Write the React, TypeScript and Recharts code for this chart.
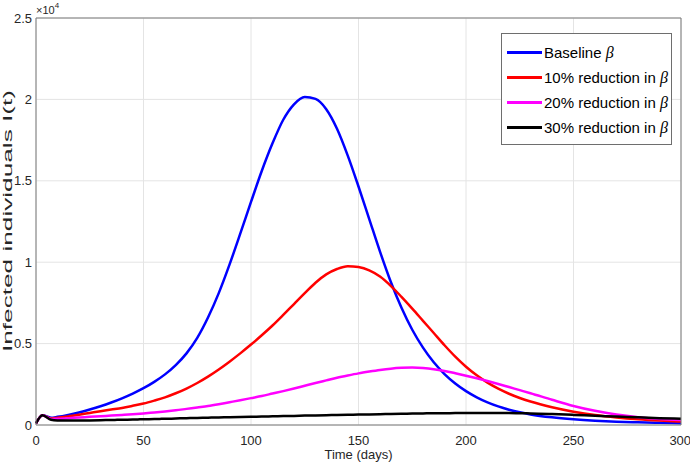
import { LineChart, Line, XAxis, YAxis, CartesianGrid, Legend } from 'recharts';

// days since start of outbreak
const days = [
  0, 3, 7,
  10, 15, 20, 25, 30, 35, 40, 45, 50, 55, 60, 65, 70, 75, 80, 85, 90, 95, 100, 105,
  110, 115, 120, 125, 130, 135, 140, 145, 150, 155, 160, 165, 170, 175, 180, 185, 190, 195,
  200, 205, 210, 215, 220, 225, 230,
  240, 250, 260, 270, 280, 290, 300,
];

// infected individuals I(t)
const baseline = [
  100, 600, 450,
  500, 620, 770, 950, 1150, 1380, 1640, 1930, 2260, 2650, 3110, 3680, 4400, 5350, 6600, 8100, 9850, 11750, 13700, 15600,
  17300, 18750, 19700, 20150, 20030, 19400, 18200, 16550, 14650, 12650, 10650, 8800, 7200, 5850, 4750, 3850, 3130, 2550,
  2080, 1700, 1390, 1140, 940, 780, 650,
  470, 350, 265, 205, 165, 135, 115,
];
const reduction10 = [
  100, 600, 400,
  450, 530, 630, 740, 850, 950, 1050, 1180, 1320, 1500, 1700, 1950, 2240, 2580, 2970, 3410, 3890, 4400, 4940, 5510,
  6110, 6760, 7430, 8100, 8740, 9250, 9580, 9750, 9700, 9500, 9120, 8550, 7870, 7150, 6400, 5650, 4900, 4200,
  3580, 3050, 2600, 2230, 1920, 1660, 1440,
  1090, 820, 610, 460, 350, 270, 210,
];
const reduction20 = [
  100, 600, 370,
  380, 420, 460, 500, 540, 580, 620, 660, 710, 770, 830, 900, 990, 1080, 1170, 1280, 1400, 1520, 1650, 1780,
  1930, 2080, 2240, 2410, 2580, 2740, 2900, 3040, 3170, 3280, 3380, 3460, 3510, 3530, 3500, 3430, 3320, 3180,
  3030, 2870, 2700, 2520, 2330, 2140, 1950,
  1550, 1170, 870, 640, 480, 370, 300,
];
const reduction30 = [
  100, 600, 320,
  280, 270, 270, 280, 290, 310, 320, 340, 350, 370, 380, 400, 420, 430, 450, 460, 480, 490, 500, 520,
  530, 550, 560, 580, 590, 600, 620, 630, 640, 650, 660, 680, 690, 700, 710, 720, 720, 730,
  730, 740, 740, 730, 730, 720, 710,
  670, 620, 570, 520, 470, 420, 380,
];

const seriesOrder = ['Baseline β', '10% reduction in β', '20% reduction in β', '30% reduction in β'];
const xTicks = [0, 50, 100, 150, 200, 250, 300];
const yTicks = [0, 5000, 10000, 15000, 20000, 25000];

const data = days.map((d, i) => ({
  day: d,
  baseline: baseline[i],
  r10: reduction10[i],
  r20: reduction20[i],
  r30: reduction30[i],
}));

const FONT = '"Liberation Sans", Arial, Helvetica, sans-serif';
const AXIS = '#7a7a7a';
const TEXT = '#262626';

const AxisTitles = () => (
  <g>
    <text
      transform="translate(12,221) rotate(-90)"
      textAnchor="middle"
      fontFamily={FONT}
      fontSize={12}
      fill={TEXT}
      textLength={262}
      lengthAdjust="spacingAndGlyphs"
    >
      Infected individuals I(t)
    </text>
    <text x={36} y={14} fontFamily={FONT} fontSize={11} fill={TEXT}>
      ×10
      <tspan dy={-6} fontSize={8}>4</tspan>
    </text>
  </g>
);

const renderLegend = (props: any) => {
  const payload = [...(props.payload || [])].sort(
    (a: any, b: any) => seriesOrder.indexOf(a.value) - seriesOrder.indexOf(b.value),
  );
  return (
    <div
      style={{
        border: '1px solid #6e6e6e',
        background: '#fff',
        padding: '6px 0 4px 5px',
        boxSizing: 'border-box',
        width: 171,
        fontFamily: FONT,
        fontSize: 15,
        color: '#000',
      }}
    >
      {payload.map((entry: any) => {
        const name = String(entry.value).replace(' β', '');
        return (
          <div key={entry.value} style={{ display: 'flex', alignItems: 'center', height: 25 }}>
            <span style={{ width: 35, height: 3, background: entry.color, display: 'inline-block' }} />
            <span style={{ marginLeft: 2, whiteSpace: 'nowrap' }}>
              {name}{' '}
              <span style={{ fontFamily: '"Liberation Serif", "DejaVu Serif", serif', fontStyle: 'italic', fontSize: 16 }}>β</span>
            </span>
          </div>
        );
      })}
    </div>
  );
};

const App = () => {
  return (
    <div style={{ position: 'absolute', top: 0, left: 0, background: '#fff' }}>
      <LineChart width={690} height={472} data={data} margin={{ top: 18, right: 9, left: 0, bottom: 0 }}>
        <CartesianGrid stroke="#e4e4e4" />
        <XAxis
          dataKey="day"
          type="number"
          domain={[0, 300]}
          ticks={xTicks}
          height={47}
          tickSize={0}
          tickMargin={11}
          stroke={AXIS}
          tick={{ fill: TEXT, fontSize: 13, fontFamily: FONT }}
          label={{ value: 'Time (days)', position: 'insideBottom', offset: 13, fill: TEXT, fontSize: 13, fontFamily: FONT }}
        />
        <XAxis xAxisId="bt" type="number" domain={[0, 300]} ticks={xTicks} mirror tick={false} axisLine={false} tickSize={7} stroke={AXIS} />
        <XAxis xAxisId="top" orientation="top" type="number" domain={[0, 300]} ticks={xTicks} mirror tick={false} tickSize={7} stroke={AXIS} />
        <YAxis
          type="number"
          domain={[0, 25000]}
          ticks={yTicks}
          width={36}
          tickSize={0}
          tickMargin={4}
          stroke={AXIS}
          tick={{ fill: TEXT, fontSize: 13, fontFamily: FONT }}
          tickFormatter={(v: number) => String(v / 10000)}
          label={<AxisTitles />}
        />
        <YAxis yAxisId="lt" type="number" domain={[0, 25000]} ticks={yTicks} mirror tick={false} axisLine={false} tickSize={6} stroke={AXIS} />
        <YAxis yAxisId="right" orientation="right" type="number" domain={[0, 25000]} ticks={yTicks} mirror tick={false} tickSize={6} stroke={AXIS} />
        <Legend
          content={renderLegend}
          layout="horizontal"
          verticalAlign="middle"
          align="center"
          wrapperStyle={{ top: 33, left: 501, width: 171 }}
        />
        <Line type="monotone" dataKey="baseline" name="Baseline β" stroke="#0000ff" strokeWidth={2.5} dot={false} isAnimationActive={false} />
        <Line type="monotone" dataKey="r10" name="10% reduction in β" stroke="#ff0000" strokeWidth={2.5} dot={false} isAnimationActive={false} />
        <Line type="monotone" dataKey="r20" name="20% reduction in β" stroke="#ff00ff" strokeWidth={2.5} dot={false} isAnimationActive={false} />
        <Line type="monotone" dataKey="r30" name="30% reduction in β" stroke="#000000" strokeWidth={2.5} dot={false} isAnimationActive={false} />
      </LineChart>
    </div>
  );
};

export default App;
